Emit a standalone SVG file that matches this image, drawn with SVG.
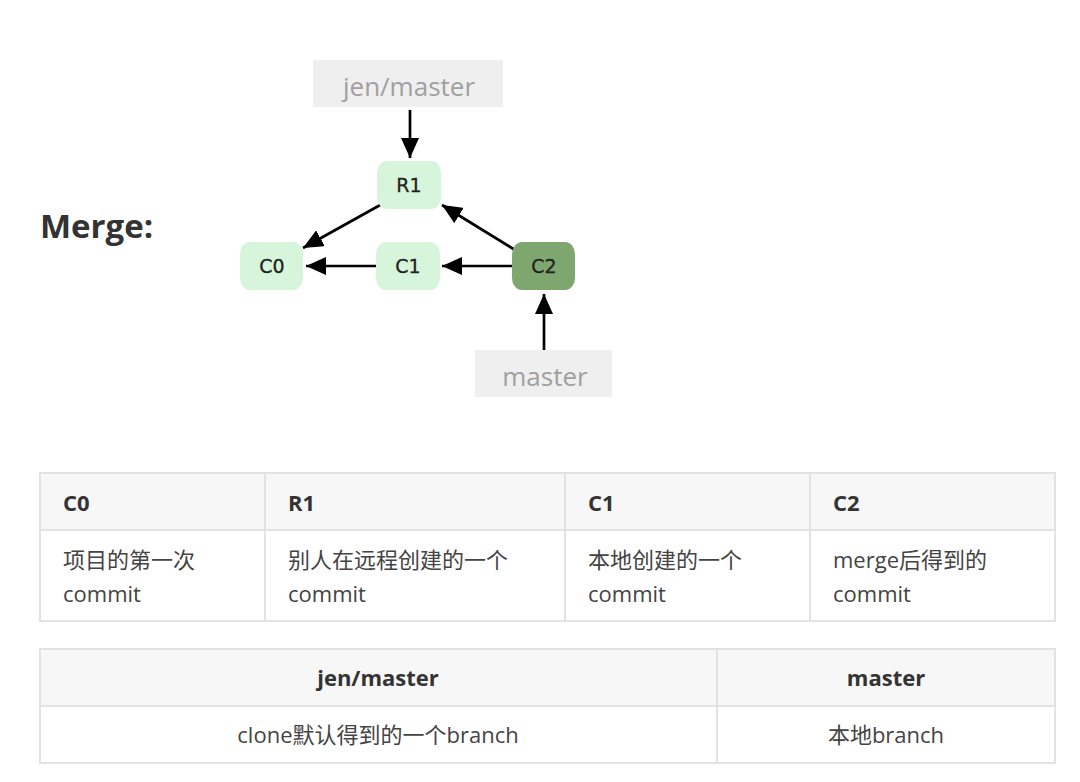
<svg xmlns="http://www.w3.org/2000/svg" width="1080" height="782" viewBox="0 0 1080 782">
<style>
.title{font-family:"Open Sans","Noto Sans CJK SC",sans-serif;font-weight:bold;font-size:33px;fill:#333}
.label{font-family:"Open Sans",sans-serif;font-size:26px;fill:#a0a0a0;text-anchor:middle}
.lbox{fill:#efefef}
.node{fill:#d7f5da}
.node-dark{fill:#7ea76f}
.ntext{font-family:"DejaVu Sans",sans-serif;font-size:19px;fill:#222;stroke:#222;stroke-width:0.3;text-anchor:middle}
.conn{stroke:#000;stroke-width:2.7;fill:none;marker-end:url(#arrow)}
.th{fill:#f7f7f7;stroke:#e2e2e2;stroke-width:2}
.td{fill:#fff;stroke:#e2e2e2;stroke-width:2}
.hd{font-family:"Open Sans","Noto Sans CJK SC",sans-serif;font-weight:bold;font-size:22px;fill:#333}
.bd{font-family:"Open Sans","Noto Sans CJK SC",sans-serif;font-size:22px;fill:#444}
.c{text-anchor:middle}
</style>
<defs>
<marker id="arrow" viewBox="0 0 20 18" refX="20" refY="9" markerWidth="20" markerHeight="18" markerUnits="userSpaceOnUse" orient="auto">
<path d="M0,0 L20,9 L0,18 z" fill="#000"/>
</marker>
</defs>
<rect width="1080" height="782" fill="#fff"/>
<text class="title" x="40" y="238">Merge:</text>

<g id="connectors">
<path class="conn" d="M410,110 L410,158"/>
<path class="conn" d="M544,350 L544,294"/>
<path class="conn" d="M376,266 L306,266"/>
<path class="conn" d="M512,266 L442,266"/>
<path class="conn" d="M382,204 L303,248"/>
<path class="conn" d="M515,250 L442,205"/>
</g>

<g id="label-jen-master">
<rect class="lbox" x="313" y="60" width="190" height="47"/>
<text class="label" x="409" y="96">jen/master</text>
</g>
<g id="label-master">
<rect class="lbox" x="475" y="350" width="137" height="47"/>
<text class="label" x="545" y="386">master</text>
</g>
<g id="node-R1">
<rect class="node" x="377" y="161" width="64" height="48" rx="10" ry="12"/>
<text class="ntext" x="409" y="192">R1</text>
</g>
<g id="node-C0">
<rect class="node" x="240" y="242" width="63" height="48" rx="10" ry="12"/>
<text class="ntext" x="272" y="273">C0</text>
</g>
<g id="node-C1">
<rect class="node" x="376" y="242" width="64" height="48" rx="10" ry="12"/>
<text class="ntext" x="408" y="273">C1</text>
</g>
<g id="node-C2">
<rect class="node-dark" x="512" y="242" width="63" height="48" rx="10" ry="12"/>
<text class="ntext" x="544" y="273">C2</text>
</g>

<g id="table1">
<rect class="th" x="40" y="473" width="225" height="57"/>
<rect class="th" x="265" y="473" width="300" height="57"/>
<rect class="th" x="565" y="473" width="245" height="57"/>
<rect class="th" x="810" y="473" width="245" height="57"/>
<rect class="td" x="40" y="530" width="225" height="91"/>
<rect class="td" x="265" y="530" width="300" height="91"/>
<rect class="td" x="565" y="530" width="245" height="91"/>
<rect class="td" x="810" y="530" width="245" height="91"/>
<text class="hd" x="63" y="511">C0</text>
<text class="hd" x="288" y="511">R1</text>
<text class="hd" x="588" y="511">C1</text>
<text class="hd" x="833" y="511">C2</text>
<text class="bd" x="63" y="568">项目的第一次</text>
<text class="bd" x="63" y="602">commit</text>
<text class="bd" x="288" y="568">别人在远程创建的一个</text>
<text class="bd" x="288" y="602">commit</text>
<text class="bd" x="588" y="568">本地创建的一个</text>
<text class="bd" x="588" y="602">commit</text>
<text class="bd" x="833" y="568">merge后得到的</text>
<text class="bd" x="833" y="602">commit</text>
</g>

<g id="table2">
<rect class="th" x="40" y="649" width="677" height="57"/>
<rect class="th" x="717" y="649" width="338" height="57"/>
<rect class="td" x="40" y="706" width="677" height="57"/>
<rect class="td" x="717" y="706" width="338" height="57"/>
<text class="hd c" x="378" y="686">jen/master</text>
<text class="hd c" x="886" y="686">master</text>
<text class="bd c" x="378" y="743">clone默认得到的一个branch</text>
<text class="bd c" x="886" y="743">本地branch</text>
</g>
</svg>
